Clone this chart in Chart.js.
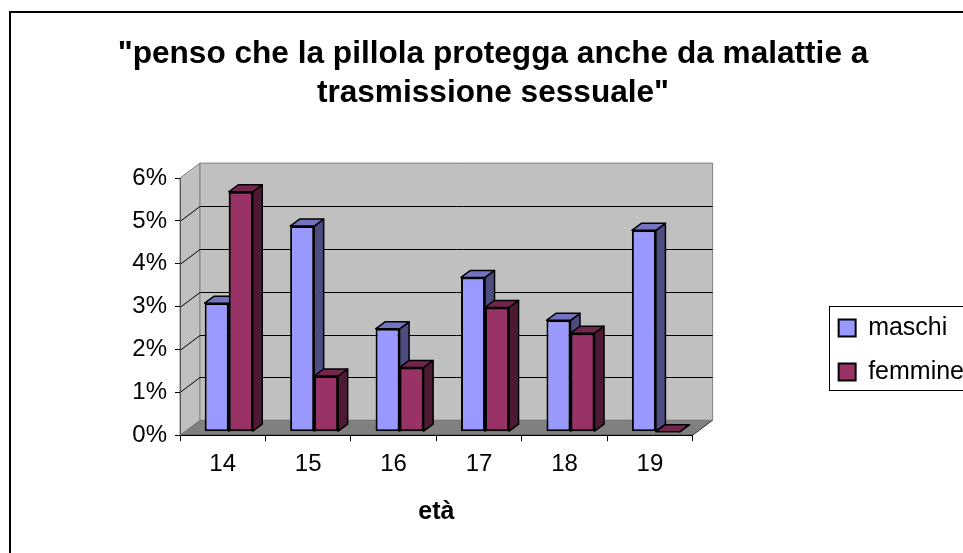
<!DOCTYPE html>
<html>
<head>
<meta charset="utf-8">
<script src="https://cdn.jsdelivr.net/npm/chart.js@4.4.1/dist/chart.umd.min.js"></script>
<style>
  html, body { margin: 0; padding: 0; background: #fff; overflow: hidden; }
  #frame { position: absolute; left: 9px; top: 11px; border-left: 2px solid #000; border-top: 2px solid #000; }
  canvas { display: block; }
</style>
</head>
<body>
<div id="frame"><canvas id="chart" width="964" height="540"></canvas></div>
<script>
// data (percent)
const TITLE_LINES = ['"penso che la pillola protegga anche da malattie a', 'trasmissione sessuale"'];
const AGES = ['14', '15', '16', '17', '18', '19'];
const MASCHI = [3.0, 4.8, 2.4, 3.6, 2.6, 4.7];
const FEMMINE = [5.6, 1.3, 1.5, 2.9, 2.3, 0];
const Y_TICKS = [0, 1, 2, 3, 4, 5, 6];
const X_TITLE = 'età';

// fake 3d depth, in px
const WALL_DX = 20, WALL_DY = -15;
const BAR_SHIFT_X = 6, BAR_SHIFT_Y = -3.5;
const BAR_DX = 9.5, BAR_DY = -7;

function poly(ctx, pts, fill, stroke) {
  ctx.beginPath();
  ctx.moveTo(pts[0][0], pts[0][1]);
  for (let i = 1; i < pts.length; i++) ctx.lineTo(pts[i][0], pts[i][1]);
  ctx.closePath();
  if (fill) { ctx.fillStyle = fill; ctx.fill(); }
  if (stroke) { ctx.strokeStyle = stroke; ctx.stroke(); }
}

function drawFaces(chart, index) {
  const ctx = chart.ctx;
  const ds = chart.data.datasets[index];
  ctx.save();
  ctx.lineWidth = 1.5;
  ctx.lineJoin = 'round';
  chart.getDatasetMeta(index).data.forEach((bar) => {
    const { x, y, base, width } = bar.getProps(['x', 'y', 'base', 'width'], true);
    const l = x - width / 2, r = x + width / 2;
    poly(ctx, [[r, y], [r + BAR_DX, y + BAR_DY], [r + BAR_DX, base + BAR_DY], [r, base]], ds.sideColor, '#000');
    poly(ctx, [[l, y], [l + BAR_DX, y + BAR_DY], [r + BAR_DX, y + BAR_DY], [r, y]], ds.topColor, '#000');
  });
  ctx.restore();
}

const THREE_D = {
  id: 'threeD',
  beforeDraw(chart) {
    const { ctx, chartArea: a, scales: { y } } = chart;
    ctx.save();
    ctx.lineWidth = 1;
    // floor, left wall, back wall
    poly(ctx, [[a.left, a.bottom], [a.left + WALL_DX, a.bottom + WALL_DY],
      [a.right + WALL_DX, a.bottom + WALL_DY], [a.right, a.bottom]], '#808080', '#333');
    poly(ctx, [[a.left, a.top], [a.left + WALL_DX, a.top + WALL_DY],
      [a.left + WALL_DX, a.bottom + WALL_DY], [a.left, a.bottom]], '#c0c0c0', '#808080');
    poly(ctx, [[a.left + WALL_DX, a.top + WALL_DY], [a.right + WALL_DX, a.top + WALL_DY],
      [a.right + WALL_DX, a.bottom + WALL_DY], [a.left + WALL_DX, a.bottom + WALL_DY]], '#c0c0c0', '#808080');
    // gridlines on the walls
    ctx.strokeStyle = '#000';
    y.ticks.forEach((t) => {
      if (t.value <= y.min || t.value >= y.max) return;
      const py = Math.round(y.getPixelForValue(t.value)) + 0.5;
      ctx.beginPath();
      ctx.moveTo(a.left, py);
      ctx.lineTo(a.left + WALL_DX, py + WALL_DY);
      ctx.lineTo(a.right + WALL_DX, py + WALL_DY);
      ctx.stroke();
    });
    ctx.restore();
  },
  beforeDatasetsDraw(chart) {
    chart.ctx.save();
    chart.ctx.translate(BAR_SHIFT_X, BAR_SHIFT_Y);
  },
  afterDatasetsDraw(chart) {
    // maschi sides go behind the femmine fronts
    drawFaces(chart, 0);
    chart.getDatasetMeta(1).data.forEach((el) => el.draw(chart.ctx));
    drawFaces(chart, 1);
    chart.ctx.restore();
  },
  afterDraw(chart) {
    const hb = chart.legend?.legendHitBoxes;
    if (!hb?.length) return;
    const ctx = chart.ctx;
    const last = hb[hb.length - 1];
    const left = Math.round(hb[0].left - 10) + 0.5;
    const top = Math.round(hb[0].top - 10) + 0.5;
    const bottom = Math.round(last.top + last.height + 5) + 0.5;
    ctx.save();
    ctx.strokeStyle = '#000';
    ctx.lineWidth = 1;
    ctx.strokeRect(left, top, 400, bottom - top);
    ctx.restore();
  },
};

Chart.defaults.font.family = '"Liberation Sans", Arial, sans-serif';
Chart.defaults.color = '#000';

new Chart(document.getElementById('chart'), {
  type: 'bar',
  data: {
    labels: AGES,
    datasets: [
      {
        label: 'maschi',
        data: MASCHI,
        backgroundColor: '#9999ff',
        sideColor: '#4d4d80',
        topColor: '#7373bf',
        borderColor: '#000',
        borderWidth: 2,
        borderSkipped: false,
      },
      {
        label: 'femmine',
        data: FEMMINE,
        backgroundColor: '#993366',
        sideColor: '#4d1a33',
        topColor: '#73264d',
        borderColor: '#000',
        borderWidth: 2,
        borderSkipped: false,
      },
    ],
  },
  options: {
    responsive: false,
    animation: false,
    categoryPercentage: 0.5625,
    barPercentage: 1,
    layout: { padding: { left: 1, right: 1, top: 0, bottom: 22 } },
    plugins: {
      tooltip: { enabled: false },
      title: {
        display: true,
        text: TITLE_LINES,
        font: { size: 31.6, weight: 'bold', lineHeight: 1.22 },
        padding: { top: 22, bottom: 66 },
        color: '#000',
      },
      legend: {
        position: 'right',
        title: { display: true, text: ' ', font: { size: 10, lineHeight: 1.2 }, padding: { top: 144, bottom: 0 } },
        labels: {
          font: { size: 25 },
          boxWidth: 17,
          boxHeight: 17,
          padding: 19,
          color: '#000',
        },
      },
    },
    scales: {
      x: {
        offset: true,
        grid: { offset: true, drawOnChartArea: false, tickLength: 6, color: '#000' },
        border: { color: '#000' },
        ticks: { font: { size: 24 }, padding: 9, color: '#000' },
        title: { display: true, text: X_TITLE, font: { size: 25, weight: 'bold' }, padding: { top: 9, bottom: 4 }, color: '#000' },
      },
      y: {
        min: Y_TICKS[0],
        max: Y_TICKS[Y_TICKS.length - 1],
        ticks: { stepSize: 1, font: { size: 24 }, padding: 8, color: '#000', callback: (v) => v + '%' },
        grid: { drawOnChartArea: false, tickLength: 5, color: '#000' },
        border: { color: '#555' },
        afterFit: (s) => { s.width = 168; },
      },
      // empty axis only to keep room between plot and legend
      pad: {
        type: 'linear',
        position: 'right',
        display: true,
        grid: { display: false },
        ticks: { display: false },
        border: { display: false },
        afterFit: (s) => { s.width = 127; },
      },
    },
  },
  plugins: [THREE_D],
});
</script>
</body>
</html>
